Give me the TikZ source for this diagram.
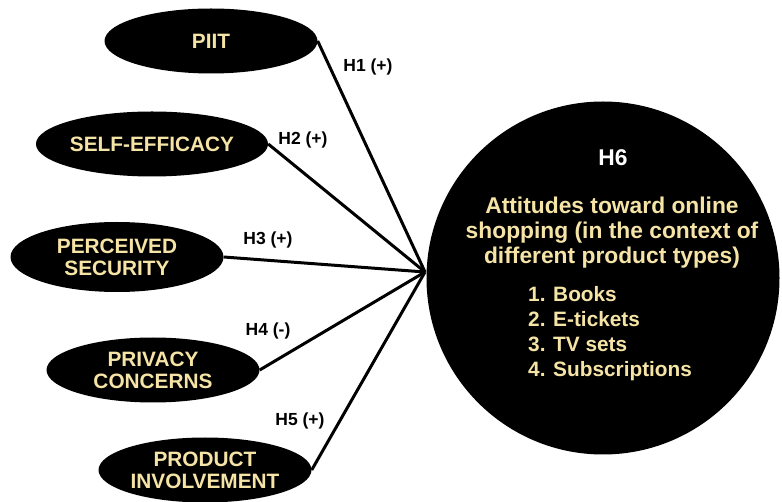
\documentclass[tikz,border=0pt]{standalone}
\usepackage{fontspec}
\setmainfont{Liberation Sans}
\usepackage{xcolor}
\usetikzlibrary{shapes.geometric,positioning}
\definecolor{cream}{RGB}{245,228,165}

\begin{document}
\begin{tikzpicture}[
        x=1pt, y=-1pt,
        factor/.style={ellipse, fill=black, text=cream, minimum width=213pt, minimum height=65pt, inner sep=0pt, align=center, font=\fontsize{20.8}{22}\selectfont\bfseries},
        outcome/.style={circle, fill=black, minimum size=353pt, inner sep=0pt},
        circtext/.style={text=cream, align=center, inner sep=0pt, font=\fontsize{22.8}{25}\selectfont\bfseries},
        hyp/.style={inner sep=0pt, font=\fontsize{17.5}{18}\selectfont\bfseries},
        link/.style={line width=3pt}
      ]
        \useasboundingbox (0,0) rectangle (782,502);

        % Outcome circle
        \node[outcome] (att) at (603,278) {};
        \node[circtext, text=white] (h6) at (613,158) {H6};
        \node[circtext] (attdesc) at (612,233) {Attitudes toward online\\shopping (in the context of\\different product types)};
        \node[circtext, align=left, anchor=north west, font=\fontsize{20.8}{25}\selectfont\bfseries] (types) at (528,286) {1. Books\\2. E-tickets\\3. TV sets\\4. Subscriptions};
        \coordinate (hub) at (425,272);

        % Factors
        \node[factor] (piit) at (211,41) {PIIT};
        \node[factor] (self) at (152,144) {SELF-EFFICACY};
        \node[factor, minimum height=70pt] (sec) at (117,257) {PERCEIVED\\SECURITY};
        \node[factor] (priv) at (153,370) {PRIVACY\\CONCERNS};
        \node[factor] (inv) at (205,470) {PRODUCT\\INVOLVEMENT};

        % Links
        \draw[link] (piit.east) -- (hub);
        \draw[link] (self.east) -- (hub);
        \draw[link] (sec.east) -- (hub);
        \draw[link] (priv.east) -- (hub);
        \draw[link] (inv.east) -- (hub);

        % Hypotheses
        \node[hyp] (h1) at (368,67) {H1 (+)};
        \node[hyp] (h2) at (303,140) {H2 (+)};
        \node[hyp] (h3) at (268,240) {H3 (+)};
        \node[hyp] (h4) at (268,331) {H4 (-)};
        \node[hyp] (h5) at (300,421) {H5 (+)};
      \end{tikzpicture}
\end{document}
